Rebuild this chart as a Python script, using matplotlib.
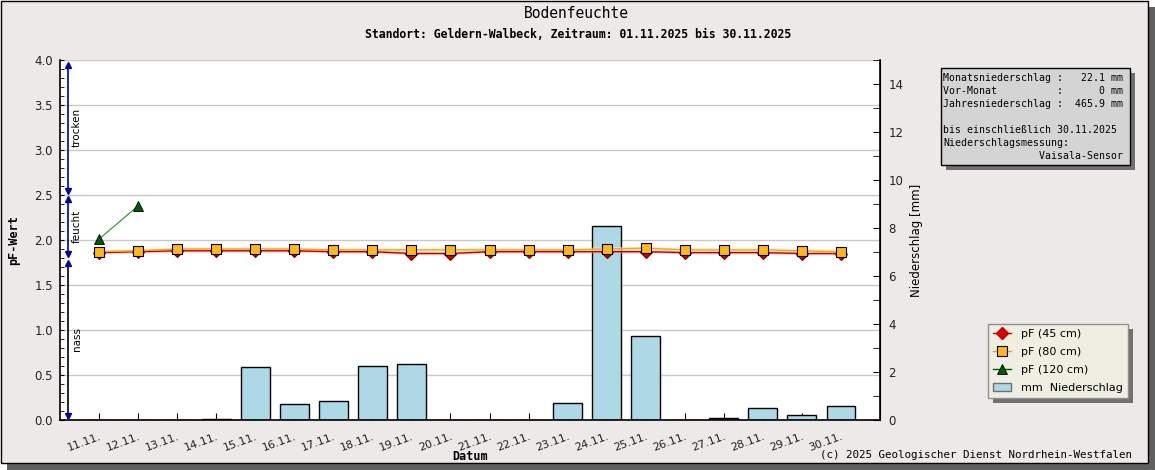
import numpy as np
import matplotlib
matplotlib.use('Agg')
import matplotlib.pyplot as plt
from matplotlib.patches import Rectangle, Patch
from matplotlib.lines import Line2D
from matplotlib.transforms import IdentityTransform
from matplotlib.ticker import MultipleLocator, FormatStrFormatter

# data
dates = ['11.11.', '12.11.', '13.11.', '14.11.', '15.11.', '16.11.', '17.11.', '18.11.', '19.11.', '20.11.',
         '21.11.', '22.11.', '23.11.', '24.11.', '25.11.', '26.11.', '27.11.', '28.11.', '29.11.', '30.11.']
pf45 = [1.86, 1.87, 1.88, 1.88, 1.88, 1.88, 1.87, 1.87, 1.85, 1.85,
        1.87, 1.87, 1.87, 1.87, 1.87, 1.86, 1.86, 1.86, 1.85, 1.85]
pf80 = [1.87, 1.88, 1.90, 1.90, 1.90, 1.90, 1.89, 1.89, 1.89, 1.89,
        1.89, 1.89, 1.89, 1.90, 1.91, 1.89, 1.89, 1.89, 1.88, 1.87]
pf120 = [2.01, 2.38] + [np.nan] * 18
niederschlag = [0, 0, 0, 0.05, 2.2, 0.65, 0.8, 2.25, 2.35, 0,
                0, 0, 0.7, 8.1, 3.5, 0, 0.1, 0.5, 0.2, 0.6]

# moisture zones on the pF axis
zone_names = ['trocken', 'feucht', 'nass']
zone_lo = [2.55, 1.85, 0.05]
zone_hi = [3.95, 2.45, 1.75]
zone_colors = ['#00009C', '#00009C', 'black']

monat_mm = 22.1
vormonat_mm = 0
jahr_mm = 465.9
bis_datum = '30.11.2025'

W, H = 1155, 470
BG = '#ECE9E8'
MONO = 'DejaVu Sans Mono'

def fx(x):
    return x / W

def fy(y):
    return 1 - y / H

fig = plt.figure(figsize=(W / 100, H / 100), dpi=100, facecolor='white')

# outer frame with shadow
fig.add_artist(Rectangle((fx(7), 0), fx(1148), fy(7), transform=fig.transFigure,
                         facecolor='#606060', edgecolor='none', zorder=-10))
fig.add_artist(Rectangle((fx(0.5), fy(463)), fx(1147), fy(0.5) - fy(463), transform=fig.transFigure,
                         facecolor=BG, edgecolor='black', lw=1, zorder=-9))

ax = fig.add_axes([fx(60), fy(420), fx(820), fy(60) - fy(420)])
ax.set_facecolor('white')
ax2 = ax.twinx()

x = np.arange(len(dates))

# bars on the right (mm) scale, drawn inside the main axes so the lines stay on top
ax.bar(x, niederschlag, width=0.74, color='#ADD8E6', edgecolor='black', linewidth=1,
       transform=ax2.transData, zorder=2)

ax.plot(x, pf45, color='#F4A8A8', lw=2.5, alpha=0.6, zorder=3)
ax.plot(x, pf80, color='#FFE8A0', lw=2.5, alpha=0.6, zorder=3)
ax.plot(x, pf45, color='#C00000', lw=1, marker='D', ms=6.5, mfc='#D00000', mec='#700000', mew=0.8, zorder=4)
ax.plot(x, pf80, color='#E8A820', lw=1, marker='s', ms=6.5, mfc='#FFB818', mec='black', mew=0.8, zorder=5)
ax.plot(x, pf120, color='#2E8B2E', lw=0.8, marker='^', ms=7, mfc='#005A00', mec='black', mew=0.6, zorder=6)

# zone arrows
xz = -0.787
for name, lo, hi, c in zip(zone_names, zone_lo, zone_hi, zone_colors):
    ax.plot([xz, xz], [lo, hi], color=c, lw=1.2, zorder=4, clip_on=False)
    ax.plot([xz], [hi], marker='^', color='#00009C', ms=5, zorder=4, clip_on=False)
    ax.plot([xz], [lo], marker='v', color='#00009C', ms=5, zorder=4, clip_on=False)
    ax.text(-0.564, (lo + hi) / 2, name, rotation=90, ha='center', va='center',
            fontsize=7.5, color='black', family='DejaVu Sans')

ax.set_xlim(-1, 20)
ax.set_ylim(0, 4)
ax2.set_ylim(0, 15)

ax.set_xticks(x)
ax.set_xticklabels(dates, rotation=20, ha='right', va='top', rotation_mode='anchor', fontsize=8, color='#222222')
ax.yaxis.set_major_locator(MultipleLocator(0.5))
ax.yaxis.set_minor_locator(MultipleLocator(0.1))
ax.yaxis.set_major_formatter(FormatStrFormatter('%.1f'))
ax.tick_params(axis='y', which='both', direction='in', length=3, labelsize=8.5, pad=5, labelcolor='#222222')
ax.tick_params(axis='x', direction='in', length=5, pad=8)

ax2.yaxis.set_major_locator(MultipleLocator(2))
ax2.yaxis.set_minor_locator(MultipleLocator(1))
ax2.tick_params(axis='y', which='both', direction='in', length=5, labelsize=8.5, pad=6, labelcolor='#222222')

ax.grid(axis='y', color='#C8C8C8', lw=1)
ax.set_axisbelow(True)
ax.spines['top'].set_visible(False)
ax2.spines['top'].set_visible(False)
ax2.spines['left'].set_visible(False)
ax2.spines['bottom'].set_visible(False)
for s in ['left', 'bottom']:
    ax.spines[s].set_linewidth(1.2)
ax2.spines['right'].set_linewidth(1.2)

ax.set_ylabel('pF-Wert', fontsize=8.5, fontweight='bold', family=MONO)
ax.yaxis.set_label_coords((14 - 60) / 820, 0.5)
ax.yaxis.label.set_va('center')
ax.set_xlabel('Datum', fontsize=8.5, fontweight='bold', family=MONO)
ax.xaxis.set_label_coords(0.5, -37 / 360)
ax.xaxis.label.set_va('center')
ax2.set_ylabel('Niederschlag [mm]', fontsize=8.5, family='DejaVu Sans')
ax2.yaxis.set_label_coords((916 - 60) / 820, 0.5)
ax2.yaxis.label.set_va('center')

fig.text(fx(576), fy(14), 'Bodenfeuchte', ha='center', va='center', fontsize=10.5, family=MONO)
fig.text(fx(578), fy(34), 'Standort: Geldern-Walbeck, Zeitraum: 01.11.2025 bis 30.11.2025',
         ha='center', va='center', fontsize=8.3, fontweight='bold', family=MONO)
fig.text(fx(1132), fy(455), '(c) 2025 Geologischer Dienst Nordrhein-Westfalen',
         ha='right', va='center', fontsize=7.8, family=MONO)

# info box
fig.add_artist(Rectangle((fx(946), fy(170)), fx(189), fy(68) - fy(165), transform=fig.transFigure,
                         facecolor='#707070', edgecolor='none', zorder=3))
fig.add_artist(Rectangle((fx(941), fy(165)), fx(189), fy(68) - fy(165), transform=fig.transFigure,
                         facecolor='#D4D4D4', edgecolor='black', lw=1, zorder=4))
info = '\n'.join([
    'Monatsniederschlag : %6.1f mm' % monat_mm,
    'Vor-Monat          : %6s mm' % vormonat_mm,
    'Jahresniederschlag : %6.1f mm' % jahr_mm,
    '',
    'bis einschließlich %s' % bis_datum,
    'Niederschlagsmessung:',
    '%30s' % 'Vaisala-Sensor',
])
fig.text(fx(943), fy(73), info, ha='left', va='top', fontsize=7.1, family=MONO,
         linespacing=1.37, zorder=5)

# legend
handles = [
    Line2D([], [], color='#C00000', lw=1, marker='D', ms=6, mfc='#E00000', mec='#C00000'),
    Line2D([], [], color='#E8A820', lw=1, marker='s', ms=6.5, mfc='#FFB818', mec='black', mew=0.8),
    Line2D([], [], color='#005A00', lw=1, marker='^', ms=7, mfc='#005A00', mec='black', mew=0.6),
    Patch(facecolor='#ADD8E6', edgecolor='#707070'),
]
labels = ['pF (45 cm)', 'pF (80 cm)', 'pF (120 cm)', 'mm  Niederschlag']
leg = fig.legend(handles, labels, loc='upper left', bbox_to_anchor=(fx(988), fy(324)),
                 bbox_transform=fig.transFigure, borderaxespad=0, fancybox=False, fontsize=8,
                 handlelength=1.6, handletextpad=0.9, labelspacing=0.72, borderpad=0.45,
                 facecolor='#EEEEE2', edgecolor='#909090', framealpha=1)
leg.get_frame().set_linewidth(1)

fig.canvas.draw()
bb = leg.get_frame().get_window_extent()
fig.add_artist(Rectangle((bb.x0 + 5, bb.y0 - 5), bb.width, bb.height, transform=IdentityTransform(),
                         facecolor='#707070', edgecolor='none', zorder=4))

fig.savefig('out.png', dpi=100, facecolor='white')
